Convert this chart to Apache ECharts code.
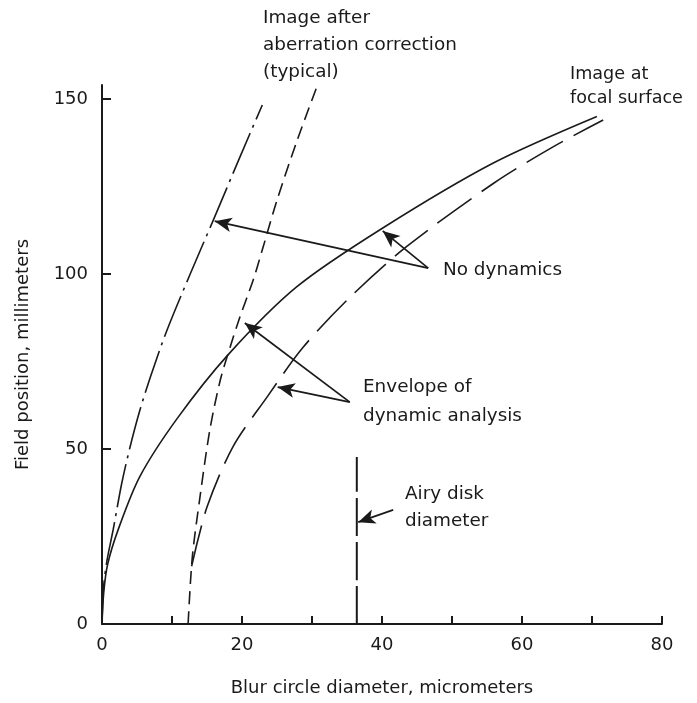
<!DOCTYPE html>
<html>
<head>
<meta charset="utf-8">
<script src="https://cdn.jsdelivr.net/npm/echarts@6/dist/echarts.min.js"></script>
<style>
  html, body { margin: 0; padding: 0; background: #fff; }
  #chart { width: 697px; height: 703px; }
</style>
</head>
<body>
<div id="chart"></div>
<script>
// curves: [blur circle diameter (um), field position (mm)]
const correctedStatic = [[0, 0], [0.2, 10], [0.7, 18], [1.6, 27], [2.8, 40], [4, 50.5], [5.4, 61], [6.9, 70.5], [9.2, 83.5], [12.6, 100], [15.9, 115.4], [19.7, 133.4], [22.9, 148.3]];
const correctedDynamic = [[12.3, 0], [12.9, 19.1], [14, 36.3], [15.4, 55.4], [16.9, 69.7], [18.3, 79.1], [19.7, 87.7], [21.6, 98.3], [22.9, 106.9], [25, 121.1], [27.9, 138.3], [30.9, 154.6]];
const focalStatic = [[0, 0], [0.25, 9], [0.8, 17], [2.3, 26.9], [5.4, 42.1], [10.7, 58.6], [18, 76.9], [27.8, 96.3], [40, 113], [55.9, 131.7], [70.7, 145]];
const focalDynamic = [[12.8, 16.5], [15, 33.4], [18.7, 50.6], [23.6, 64.9], [28.7, 79], [35.5, 93.5], [43.5, 107.8], [56, 126], [64.5, 136.4], [71.6, 144]];
const airyDisk = [[36.4, 0], [36.4, 47.7]];

const xTicks = [0, 10, 20, 30, 40, 50, 60, 70, 80];
const xLabels = [0, 20, 40, 60, 80];
const yTicks = [0, 50, 100, 150];

// arrows: [from, to]
const arrows = [
  [[46.6, 101.7], [16.1, 115.1]],
  [[46.6, 101.7], [40.1, 112.3]],
  [[35.4, 63.4], [25.1, 67.7]],
  [[35.4, 63.4], [20.4, 86]],
  [[41.6, 32.6], [36.6, 29.1]]
];

const font = '"DejaVu Sans", sans-serif';
const ink = '#1a1a1a';

const chart = echarts.init(document.getElementById('chart'));

function curve(name, data, type, width) {
  return {
    name: name,
    type: 'line',
    data: data,
    smooth: 0.3,
    symbol: 'none',
    clip: false,
    lineStyle: { color: ink, width: width || 1.6, type: type },
    emphasis: { disabled: true },
    silent: true
  };
}

const focalSeries = curve('focalStatic', focalStatic, 'solid');
focalSeries.markLine = {
  silent: true,
  symbol: ['none', 'arrow'],
  symbolSize: [11, 17],
  label: { show: false },
  lineStyle: { color: ink, width: 1.7, type: 'solid' },
  data: arrows.map(a => [{ coord: a[0] }, { coord: a[1] }])
};

chart.setOption({
  animation: false,
  backgroundColor: '#fff',
  grid: { left: 102, right: 35, top: 85, bottom: 79 },
  xAxis: {
    type: 'value',
    min: 0,
    max: 80,
    interval: 10,
    name: 'Blur circle diameter, micrometers',
    nameLocation: 'middle',
    nameGap: 55,
    nameTextStyle: { fontFamily: font, fontSize: 18, color: ink },
    axisLine: { lineStyle: { color: ink, width: 2 } },
    axisTick: { inside: true, length: 8, customValues: xTicks, lineStyle: { color: ink, width: 2 } },
    axisLabel: { customValues: xLabels, margin: 12, fontFamily: font, fontSize: 18, color: ink },
    splitLine: { show: false }
  },
  yAxis: {
    type: 'value',
    min: 0,
    max: 154,
    interval: 50,
    name: 'Field position, millimeters',
    nameLocation: 'middle',
    nameGap: 70,
    nameTextStyle: { fontFamily: font, fontSize: 18, color: ink },
    axisLine: { lineStyle: { color: ink, width: 2 } },
    axisTick: { inside: true, length: 9, customValues: yTicks, lineStyle: { color: ink, width: 2 } },
    axisLabel: { customValues: yTicks, margin: 14, fontFamily: font, fontSize: 18, color: ink },
    splitLine: { show: false }
  },
  series: [
    curve('correctedStatic', correctedStatic, [44, 6, 3, 6]),
    curve('correctedDynamic', correctedDynamic, [13, 7]),
    focalSeries,
    curve('focalDynamic', focalDynamic, [42, 12]),
    curve('airyDisk', airyDisk, [38, 6], 2)
  ],
  graphic: [
    { type: 'text', left: 263, top: 5, style: { text: 'Image after\naberration correction\n(typical)', font: '18.4px ' + font, fill: ink, lineHeight: 27 } },
    { type: 'text', left: 570, top: 62, style: { text: 'Image at\nfocal surface', font: '17.6px ' + font, fill: ink, lineHeight: 24 } },
    { type: 'text', left: 443, top: 257, style: { text: 'No dynamics', font: '18.4px ' + font, fill: ink, lineHeight: 27 } },
    { type: 'text', left: 363, top: 373, style: { text: 'Envelope of\ndynamic analysis', font: '18.4px ' + font, fill: ink, lineHeight: 29 } },
    { type: 'text', left: 405, top: 481, style: { text: 'Airy disk\ndiameter', font: '18.4px ' + font, fill: ink, lineHeight: 27 } }
  ]
});
</script>
</body>
</html>
